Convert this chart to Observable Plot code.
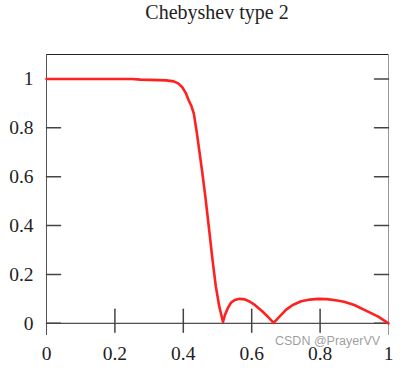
<!DOCTYPE html>
<html>
<head>
<meta charset="utf-8">
<script src="https://cdn.jsdelivr.net/npm/d3@7"></script>
<script src="https://cdn.jsdelivr.net/npm/@observablehq/plot@0.6"></script>
<style>
  html, body { margin: 0; padding: 0; background: #fff; }
  #wrap { position: relative; width: 420px; height: 381px; overflow: hidden; }
  #title { height: 30px; line-height: 24px; text-align: center; font-family: "Liberation Serif", "Times New Roman", serif; font-size: 20px; color: #222; padding-left: 14px; box-sizing: border-box; }
  #wm { position: absolute; left: 275px; top: 335px; font-family: "Liberation Sans", Arial, sans-serif; font-size: 12.5px; line-height: 1; color: rgba(140,140,140,0.85); white-space: nowrap; }
</style>
</head>
<body>
<div id="wrap">
  <div id="title">Chebyshev type 2</div>
  <div id="chart"></div>
  <div id="wm">CSDN @PrayerVV</div>
</div>
<script>
const freq = [0, 0.05, 0.1, 0.15, 0.2, 0.25, 0.275, 0.3, 0.33, 0.35, 0.372, 0.385, 0.397, 0.407, 0.416, 0.424, 0.431, 0.44, 0.448, 0.456, 0.465, 0.475, 0.485, 0.495, 0.505, 0.511, 0.516, 0.522, 0.53, 0.54, 0.55, 0.565, 0.58, 0.595, 0.61, 0.63, 0.645, 0.664, 0.68, 0.7, 0.72, 0.745, 0.77, 0.795, 0.82, 0.85, 0.87, 0.9, 0.94, 0.97, 1];
const mag  = [1, 1, 1, 1, 1, 1, 0.997, 0.996, 0.995, 0.994, 0.99, 0.982, 0.966, 0.943, 0.912, 0.888, 0.857, 0.775, 0.694, 0.612, 0.512, 0.39, 0.265, 0.152, 0.07, 0.035, 0.005, 0.035, 0.062, 0.085, 0.095, 0.1, 0.098, 0.088, 0.074, 0.05, 0.03, 0.002, 0.025, 0.055, 0.075, 0.09, 0.097, 0.1, 0.099, 0.093, 0.088, 0.075, 0.048, 0.027, 0];
const xTicks = [0, 0.2, 0.4, 0.6, 0.8, 1];
const xInnerTicks = [0.2, 0.4, 0.6, 0.8];
const yTicks = [0, 0.2, 0.4, 0.6, 0.8, 1];
const xDomain = [0, 1];
const yDomain = [-0.05, 1.1];

const data = freq.map((f, i) => ({f, m: mag[i]}));
const tickShape = {draw(ctx, l) { ctx.moveTo(0, 0); ctx.lineTo(0, -l); }};
const serif = "Liberation Serif";

const chart = Plot.plot({
  width: 420,
  height: 351,
  marginTop: 24,
  marginBottom: 46,
  marginLeft: 46,
  marginRight: 32,
  style: {fontSize: "19.5px", fontFamily: serif, color: "#222", background: "#fff"},
  x: {domain: xDomain},
  y: {domain: yDomain},
  marks: [
    Plot.frame({anchor: "top", stroke: "#222"}),
    Plot.ruleX([xDomain[0]], {stroke: "#555"}),
    Plot.ruleX([xDomain[1]], {stroke: "#999"}),
    Plot.ruleY([0], {stroke: "#222"}),
    Plot.vector(yTicks, {y: d => d, frameAnchor: "left", rotate: 90, length: 14, anchor: "start", shape: tickShape, stroke: "#444"}),
    Plot.vector(yTicks, {y: d => d, frameAnchor: "right", rotate: -90, length: 14, anchor: "start", shape: tickShape, stroke: "#444"}),
    Plot.vector(xInnerTicks, {x: d => d, y: 0, rotate: 0, length: 23, dy: 9, anchor: "start", shape: tickShape, stroke: "#444"}),
    Plot.axisX(xTicks, {tickSize: 0, tickPadding: 11, tickFormat: d => String(d), label: null, fontSize: 19.5, fontFamily: serif, fill: "#222"}),
    Plot.axisY(yTicks, {tickSize: 0, tickPadding: 13, tickFormat: d => String(d), label: null, fontSize: 19.5, fontFamily: serif, fill: "#222"}),
    Plot.line(data, {x: "f", y: "m", stroke: "#ff2020", strokeWidth: 2.6})
  ]
});
d3.select(chart).attr("font-family", serif);
d3.select(chart).selectAll("text, g").attr("font-family", serif).style("font-family", serif).attr("font-variant", null).style("font-variant", "normal");
document.getElementById("chart").appendChild(chart);
</script>
</body>
</html>
